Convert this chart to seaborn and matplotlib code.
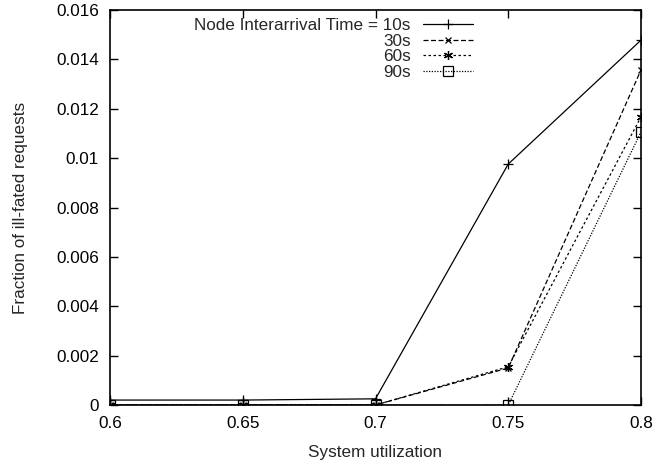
import matplotlib
matplotlib.use("Agg")
import matplotlib.pyplot as plt
import seaborn as sns
import pandas as pd

utilization = [0.6, 0.65, 0.7, 0.75, 0.8]
series_labels = ["Node Interarrival Time = 10s", "30s", "60s", "90s"]
vals_10s = [0.0002, 0.0002, 0.00025, 0.00976, 0.01478]
vals_30s = [0.0, 0.0, 0.0, 0.0015, 0.01357]
vals_60s = [0.0, 0.0, 0.0, 0.00155, 0.01167]
vals_90s = [0.0, 0.0, 0.0, 0.0, 0.01106]
yticks = [0, 0.002, 0.004, 0.006, 0.008, 0.01, 0.012, 0.014, 0.016]
ytick_labels = ["0", "0.002", "0.004", "0.006", "0.008", "0.01", "0.012", "0.014", "0.016"]
xticks = [0.6, 0.65, 0.7, 0.75, 0.8]
xtick_labels = ["0.6", "0.65", "0.7", "0.75", "0.8"]

sns.set_theme(style="ticks")
plt.rcParams['font.family'] = ['Liberation Sans', 'DejaVu Sans']

FS = 12.3
fig = plt.figure(figsize=(6.59, 4.63), dpi=100)
ax = fig.add_axes([110/659, 1-405/463, (641-110)/659, (405-10)/463])

all_vals = [vals_10s, vals_30s, vals_60s, vals_90s]
styles = [
    dict(linestyle="-", marker="+", markersize=6.5),
    dict(linestyle=(0, (4, 2)), marker="x", markersize=5),
    dict(linestyle=(0, (2, 2)), marker=(6, 2, 0), markersize=6.5),
    dict(linestyle=(0, (1, 1.2)), marker="s", markersize=6.5, fillstyle="none"),
]
for lab, vals, st in zip(series_labels, all_vals, styles):
    df = pd.DataFrame({"x": utilization, "y": vals})
    sns.lineplot(data=df, x="x", y="y", ax=ax, color="black", linewidth=0.9,
                 markeredgewidth=0.9, markeredgecolor="black", label=lab, **st)

ax.set_xlim(0.6, 0.8)
ax.set_ylim(0, 0.016)
ax.set_xticks(xticks)
ax.set_xticklabels(xtick_labels)
ax.set_yticks(yticks)
ax.set_yticklabels(ytick_labels)
ax.tick_params(direction="in", top=True, right=True, length=6, width=1,
               labelsize=FS, colors="black", pad=8)
for s in ax.spines.values():
    s.set_visible(True)
    s.set_color("black")
    s.set_linewidth(1.2)
ax.set_xlabel("System utilization", fontsize=FS, labelpad=10)
ax.set_ylabel("Fraction of ill-fated requests", fontsize=FS, labelpad=20)

leg = ax.legend(loc="upper right", markerfirst=False, frameon=False, fontsize=FS,
                handlelength=2.9, labelspacing=0.03, borderaxespad=0.0,
                borderpad=0.0, handletextpad=0.75,
                bbox_to_anchor=((473-110)/531, (405-18)/395))

fig.savefig("out.png", dpi=100)
